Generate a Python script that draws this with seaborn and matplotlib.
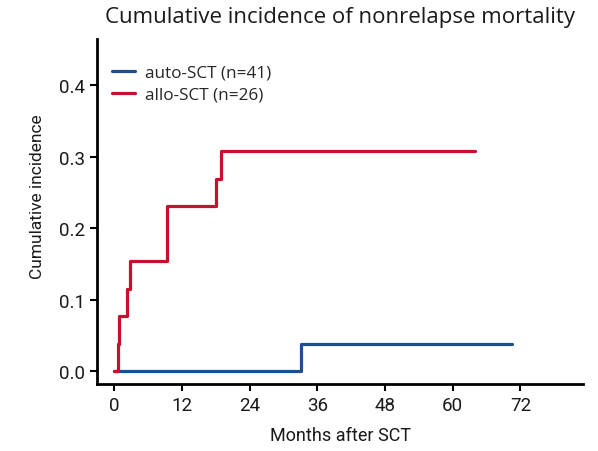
import matplotlib
matplotlib.use("Agg")
import matplotlib.pyplot as plt
import seaborn as sns
import pandas as pd

# Nonrelapse mortality cumulative incidence step curves
auto_label = "auto-SCT (n=41)"
allo_label = "allo-SCT (n=26)"

auto_months = [0.0, 33.1, 70.5]
auto_cuminc = [0.0, 0.038, 0.038]

allo_months = [0.0, 0.73, 0.9, 2.2, 2.8, 9.4, 18.0, 18.9, 64.0]
allo_cuminc = [0.0, 0.038, 0.077, 0.115, 0.154, 0.231, 0.269, 0.308, 0.308]

x_ticks = [0, 12, 24, 36, 48, 60, 72]
y_ticks = [0.0, 0.1, 0.2, 0.3, 0.4]

df = pd.concat([
    pd.DataFrame({"month": auto_months, "ci": auto_cuminc, "group": auto_label}),
    pd.DataFrame({"month": allo_months, "ci": allo_cuminc, "group": allo_label}),
])

sns.set_theme(style="ticks")
plt.rcParams["font.family"] = ["Roboto", "DejaVu Sans"]

fig = plt.figure(figsize=(5.98, 4.52), dpi=100)
ax = fig.add_axes([0.1622, 0.148, 0.8128, 0.7635])

palette = {auto_label: "#1f4e8c", allo_label: "#c8102e"}
sns.lineplot(data=df, x="month", y="ci", hue="group",
             hue_order=[auto_label, allo_label], palette=palette,
             drawstyle="steps-post", estimator=None, linewidth=2.3, ax=ax)

ax.set_xlim(-3.05, 83.1)
ax.set_ylim(-0.0178, 0.465)
ax.set_xticks(x_ticks)
ax.set_yticks(y_ticks)
ax.set_yticklabels([f"{v:.1f}" for v in y_ticks])
ax.tick_params(axis="both", labelsize=13.5, width=1.5, length=5, color="black", labelcolor="#1a1a1a")

for side in ["top", "right"]:
    ax.spines[side].set_visible(False)
for side in ["left", "bottom"]:
    ax.spines[side].set_linewidth(2)
    ax.spines[side].set_color("black")

ax.set_xlabel("Months after SCT", fontsize=13, color="#1a1a1a", labelpad=9)
ax.set_ylabel("Cumulative incidence", fontsize=12.5, color="#1a1a1a")
ax.yaxis.set_label_coords(-0.108, 0.545)
ax.set_title("Cumulative incidence of nonrelapse mortality", fontsize=16,
             family=["Open Sans", "DejaVu Sans"], color="#1a1a1a", pad=12)

leg = ax.legend(loc="upper left", frameon=False, fontsize=12.3,
                handlelength=1.3, handletextpad=0.6, labelspacing=0.35,
                bbox_to_anchor=(0.0, 0.97))
for line in leg.get_lines():
    line.set_linewidth(2.3)
for t in leg.get_texts():
    t.set_family(["Open Sans", "DejaVu Sans"])

fig.savefig("out.png", dpi=100)
